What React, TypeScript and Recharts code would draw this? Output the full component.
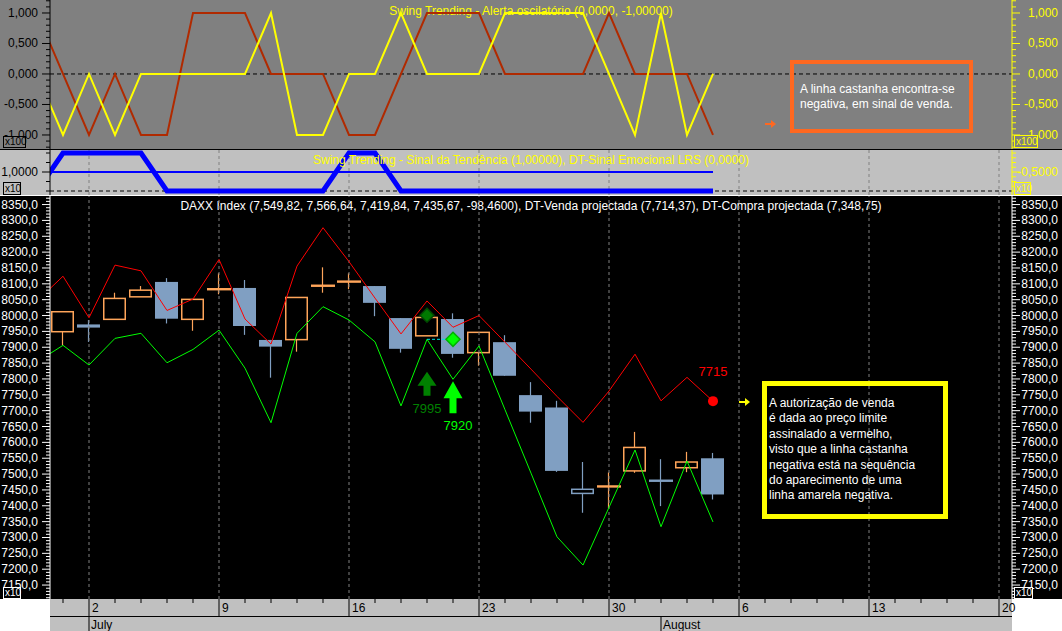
import React from "react"
import {
  ComposedChart,
  Line,
  Bar,
  XAxis,
  YAxis,
  ReferenceLine,
  ReferenceDot,
} from "recharts"

const FONT = '"Liberation Sans", Arial, sans-serif'

// sessions: first one (28 Jun) sits just off the left edge of the plot
const sessions = [
  "28 Jun", "29 Jun",
  "2 Jul", "3 Jul", "4 Jul", "5 Jul", "6 Jul",
  "9 Jul", "10 Jul", "11 Jul", "12 Jul", "13 Jul",
  "16 Jul", "17 Jul", "18 Jul", "19 Jul", "20 Jul",
  "23 Jul", "24 Jul", "25 Jul", "26 Jul", "27 Jul",
  "30 Jul", "31 Jul", "1 Aug", "2 Aug", "3 Aug",
]

const open = [null, 7949, 7972, 7988, 8059, 8106, 7988, 8082, 8087, 7923, 7924, 8093, 8106, 8093, 7992, 7936, 7989, 7883, 7916, 7749, 7710, 7439, 7460, 7510, 7480, 7520, 7549.82]
const high = [null, 8012, 7986, 8072, 8093, 8118, 8051, 8133, 8112, 7923, 8057, 8152, 8133, 8093, 7992, 7994, 8007, 7947, 7938, 7790, 7731, 7538, 7505, 7633, 7547, 7570, 7566.64]
const low = [null, 7907, 7917, 7988, 8059, 7975, 7952, 8067, 7939, 7804, 7886, 8072, 8083, 7998, 7883, 7936, 7867, 7842, 7810, 7662, 7507, 7378, 7392, 7504, 7399, 7506, 7419.84]
const close = [null, 8012, 7962, 8054, 8080, 7990, 8051, 8084, 7967, 7902, 8057, 8095, 8108, 8040, 7895, 7994, 7879, 7947, 7810, 7697, 7510, 7452, 7462, 7584, 7478, 7538, 7435.67]

// DT-Venda projectada (red) / DT-Compra projectada (green)
const vendaProj = [8046, 8124, 7993, 8159, 8141, 8016, 8052, 8177, 7989, 7910, 8156, 8277, 8170, 8055, 7942, 8046, 7963, 8000, 7916, 7831, 7745, 7663, 7762, 7878, 7731, 7805, 7730]
const compraProj = [7854, 7906, 7844, 7928, 7944, 7851, 7893, 7954, 7834, 7662, 7944, 8028, 7986, 7917, 7715, 7925, 7799, 7904, 7703, 7503, 7302, 7213, 7395, 7576, 7334, 7541, 7349]

// Swing Trending - Alerta oscilatório
const yellowOsc = [0, -1, 0, -1, 0, 0, 0, 0, 0, 1, -1, -1, 0, 0, 1, 0, 0, 0, 1, 1, 1, 1, 0, -1, 1, -1, 0]
const brownOsc = [1, 0, -1, 0, -1, -1, 1, 1, 1, 0, 0, 0, -1, -1, 0, 1, 1, 1, 0, 0, 0, 0, 1, 0, 0, 0, -1]

// Sinal da Tendência (thin) / DT-Sinal Emocional LRS (thick)
const trendSignal = [1, 1, 1, 1, 1, 1, 1, 1, 1, 1, 1, 1, 1, 1, 1, 1, 1, 1, 1, 1, 1, 1, 1, 1, 1, 1, 1]
const emotional = [0, 1, 1, 1, 1, 0, 0, 0, 0, 0, 0, 0, 1, 1, 0, 0, 0, 0, 0, 0, 0, 0, 0, 0, 0, 0, 0]

// axis: trading days 29 Jun .. 20 Aug
const axisDays = [29, 2, 3, 4, 5, 6, 9, 10, 11, 12, 13, 16, 17, 18, 19, 20, 23, 24, 25, 26, 27, 30, 31, 1, 2, 3, 6, 7, 8, 9, 10, 13, 14, 15, 16, 17, 20]
const monthLabels = ["July", "August"]
const monthStart = [1, 23]

const table = sessions.map((s, k) => ({
  i: k - 1,
  date: s,
  o: open[k],
  h: high[k],
  l: low[k],
  c: close[k],
  pc: k > 1 ? close[k - 1] : null,
  venda: vendaProj[k],
  compra: compraProj[k],
  yellow: yellowOsc[k],
  brown: brownOsc[k],
  trend: trendSignal[k],
  emo: emotional[k],
}))

const X_DOMAIN = [-0.5, 36.5]
const xTicks = axisDays.map((_, i) => i)
const mondays = xTicks.filter((i) => i % 5 === 1)

const ORANGE = "#ffa55a"
const BLUE = "#809fc2"

const oscTicks = Array.from({ length: 25 }, (_, k) => (k - 12) / 10)
const priceTicks = Array.from({ length: 127 }, (_, k) => 7110 + k * 10)
const midTicks = [0, 0.5, 1, 1.5, 2]
const midRightTicks = [-1.5, -1.25, -1, -0.75, -0.5, -0.25, 0, 0.25, 0.5]

const axisTick =
  (side: "left" | "right", color: string, isMajor: (v: number) => boolean, hasLabel: (v: number) => boolean, fmt: (v: number) => string) =>
  (p: any) => {
    const v = p.payload.value
    const len = isMajor(v) ? 8 : 4
    const dir = side === "left" ? -1 : 1
    return (
      <g>
        <line x1={p.x} x2={p.x + dir * len} y1={p.y} y2={p.y} stroke={color} />
        {hasLabel(v) && (
          <text
            x={side === "left" ? p.x - 12 : p.x + 46}
            y={p.y}
            dy={4}
            textAnchor="end"
            fill={color}
            fontSize={12}
            fontFamily={FONT}
          >
            {fmt(v)}
          </text>
        )}
      </g>
    )
  }

const oscMajor = (v: number) => Math.round(v * 10) % 5 === 0
const oscFmt = (v: number) => (Math.abs(v) < 1e-9 ? 0 : v).toFixed(3).replace(".", ",")
const priceMajor = (v: number) => v % 50 === 0
const priceFmt = (v: number) => v.toFixed(1).replace(".", ",")

const dayTick = (p: any) => {
  const i = p.payload.value
  const { x, y } = p
  const monday = i % 5 === 1
  const m = monthStart.indexOf(i)
  return (
    <g>
      <line x1={x} x2={x} y1={y} y2={monday ? y + 17 : y + 4} stroke="#000" />
      {monday && (
        <text x={x + 3} y={y + 13} fontSize={12} fill="#000" fontFamily={FONT}>
          {axisDays[i]}
        </text>
      )}
      {m >= 0 && <line x1={x} x2={x} y1={y + 17} y2={y + 32} stroke="#000" />}
      {m >= 0 && (
        <text x={x + 2} y={y + 30} fontSize={12} fill="#000" fontFamily={FONT}>
          {monthLabels[m]}
        </text>
      )}
    </g>
  )
}

const Candle = (props: any) => {
  const { x, y, width, height, payload } = props
  if (payload == null || payload.o == null) return <g />
  const { o, h, l, c, pc } = payload
  const ppu = height / (h - l)
  const yO = y + (h - o) * ppu
  const yC = y + (h - c) * ppu
  const cx = x + width / 2
  const color = pc == null || c >= pc ? ORANGE : BLUE
  if (Math.abs(yO - yC) < 2) {
    const ym = (yO + yC) / 2
    return (
      <g>
        <line x1={cx} x2={cx} y1={y} y2={y + height} stroke={color} strokeWidth={1.2} />
        <rect x={x} y={ym - 1.2} width={width + 1} height={2.4} fill={color} />
      </g>
    )
  }
  if (c > o) {
    return (
      <g>
        <line x1={cx} x2={cx} y1={y} y2={yC} stroke={color} strokeWidth={1.2} />
        <line x1={cx} x2={cx} y1={yO} y2={y + height} stroke={color} strokeWidth={1.2} />
        <rect x={x + 0.75} y={yC} width={width - 1.5} height={yO - yC} fill="none" stroke={color} strokeWidth={1.5} />
      </g>
    )
  }
  return (
    <g>
      <line x1={cx} x2={cx} y1={y} y2={y + height} stroke={color} strokeWidth={1.2} />
      <rect x={x} y={yO} width={width} height={yC - yO} fill={color} />
    </g>
  )
}

const diamond = (fill: string, stroke: string) => (p: any) => (
  <polygon
    points={`${p.cx},${p.cy - 7} ${p.cx + 7},${p.cy} ${p.cx},${p.cy + 7} ${p.cx - 7},${p.cy}`}
    fill={fill}
    stroke={stroke}
    strokeWidth={1.5}
  />
)

const buyArrow = (fill: string, label: string, dx: number, dy: number, headH: number, stemH: number) => (p: any) => {
  const { cx, cy } = p
  const pts = [
    [cx, cy],
    [cx + 9.5, cy + headH],
    [cx + 3.5, cy + headH],
    [cx + 3.5, cy + headH + stemH],
    [cx - 3.5, cy + headH + stemH],
    [cx - 3.5, cy + headH],
    [cx - 9.5, cy + headH],
  ]
  return (
    <g>
      <polygon points={pts.map((q) => q.join(",")).join(" ")} fill={fill} />
      <text x={cx + dx} y={cy + dy} textAnchor="middle" fill={fill} fontSize={13} fontFamily={FONT}>
        {label}
      </text>
    </g>
  )
}

const M = { top: 0, right: 0, bottom: 0, left: 0 }

const box = (style: React.CSSProperties): React.CSSProperties => ({ position: "absolute", boxSizing: "border-box", ...style })

const Scale = ({ left, top, w, h, color, bg, text }: any) => (
  <div
    style={box({
      left,
      top,
      width: w,
      height: h,
      border: `1px solid ${color}`,
      background: bg,
      color,
      fontSize: 10,
      lineHeight: `${h - 2}px`,
      paddingLeft: 1,
    })}
  >
    {text}
  </div>
)

export default function App() {
  return (
    <div style={box({ left: 0, top: 0, width: 1062, height: 631, background: "#fff", overflow: "hidden", fontFamily: FONT })}>
      <div style={box({ left: 0, top: 0, width: 1062, height: 149, background: "#808080" })} />
      <div style={box({ left: 0, top: 149, width: 1062, height: 1, background: "#000" })} />
      <div style={box({ left: 0, top: 150, width: 1062, height: 45, background: "#c0c0c0" })} />
      <div style={box({ left: 0, top: 195, width: 1062, height: 1, background: "#fff" })} />
      <div style={box({ left: 0, top: 196, width: 1062, height: 403, background: "#000" })} />
      <div style={box({ left: 50, top: 599, width: 962, height: 32, background: "#c0c0c0" })} />
      <div style={box({ left: 50, top: 616, width: 962, height: 1, background: "#000" })} />

      <div style={box({ left: 50, top: 4, width: 962, textAlign: "center", color: "#ffff00", fontSize: 12, lineHeight: "14px" })}>
        Swing Trending - Alerta oscilatório (0,0000, -1,00000)
      </div>
      <div style={box({ left: 50, top: 199, width: 962, textAlign: "center", color: "#fff", fontSize: 12, lineHeight: "14px" })}>
        DAXX Index (7,549,82, 7,566,64, 7,419,84, 7,435,67, -98,4600), DT-Venda projectada (7,714,37), DT-Compra projectada (7,348,75)
      </div>

      {/* oscillator panel */}
      <div style={box({ left: 0, top: 0 })}>
        <ComposedChart width={1062} height={149} data={table} margin={M}>
          <XAxis dataKey="i" type="number" domain={X_DOMAIN} allowDataOverflow hide />
          <YAxis
            width={50}
            domain={[-1.23, 1.213]}
            allowDataOverflow
            ticks={oscTicks}
            interval={0}
            tickLine={false}
            tickSize={0}
            tickMargin={0}
            axisLine={{ stroke: "#000" }}
            tick={axisTick("left", "#000", oscMajor, oscMajor, oscFmt)}
          />
          <YAxis
            yAxisId="r"
            orientation="right"
            width={50}
            domain={[-1.23, 1.213]}
            allowDataOverflow
            ticks={oscTicks}
            interval={0}
            tickLine={false}
            tickSize={0}
            tickMargin={0}
            axisLine={{ stroke: "#ffff00" }}
            tick={axisTick("right", "#ffff00", oscMajor, oscMajor, oscFmt)}
          />
          <ReferenceLine y={0} stroke="#000" strokeDasharray="4 3" />
          <Line dataKey="brown" type="linear" stroke="#b02a00" strokeWidth={2} dot={false} isAnimationActive={false} />
          <Line dataKey="yellow" type="linear" stroke="#ffff00" strokeWidth={2} dot={false} isAnimationActive={false} />
        </ComposedChart>
      </div>

      {/* trend panel */}
      <div style={box({ left: 0, top: 150 })}>
        <ComposedChart width={1062} height={45} data={table} margin={M}>
          <XAxis dataKey="i" type="number" domain={X_DOMAIN} allowDataOverflow hide />
          <YAxis
            width={50}
            domain={[-0.2105, 2.158]}
            allowDataOverflow
            ticks={midTicks}
            interval={0}
            tickLine={false}
            tickSize={0}
            tickMargin={0}
            axisLine={{ stroke: "#000" }}
            tick={axisTick("left", "#000", (v) => v === 1, (v) => v === 1, (v) => v.toFixed(4).replace(".", ","))}
          />
          <YAxis
            yAxisId="r"
            orientation="right"
            width={50}
            domain={[-1.7105, 0.658]}
            allowDataOverflow
            ticks={midRightTicks}
            interval={0}
            tickLine={false}
            tickSize={0}
            tickMargin={0}
            axisLine={{ stroke: "#ffff00" }}
            tick={axisTick("right", "#ffff00", (v) => v === -0.5, (v) => v === -0.5, (v) => v.toFixed(4).replace(".", ","))}
          />
          <YAxis yAxisId="emo" hide domain={[-0.10525, 1.079]} allowDataOverflow />
          {mondays.map((i) => (
            <ReferenceLine key={i} x={i} stroke="#808080" strokeDasharray="3 3" />
          ))}
          <ReferenceLine y={0} stroke="#000" strokeDasharray="4 3" />
          <Line dataKey="trend" type="linear" stroke="#0000ff" strokeWidth={2} dot={false} isAnimationActive={false} />
          <Line yAxisId="emo" dataKey="emo" type="linear" stroke="#0000ff" strokeWidth={5} dot={false} isAnimationActive={false} />
        </ComposedChart>
      </div>
      <div style={box({ left: 50, top: 153, width: 962, textAlign: "center", color: "#ffff00", fontSize: 12, lineHeight: "14px" })}>
        Swing Trending - Sinal da Tendência (1,00000), DT-Sinal Emocional LRS (0,0000)
      </div>

      {/* price panel */}
      <div style={box({ left: 0, top: 196 })}>
        <ComposedChart width={1062} height={435} data={table} margin={M}>
          <XAxis
            dataKey="i"
            type="number"
            domain={X_DOMAIN}
            allowDataOverflow
            ticks={xTicks}
            interval={0}
            height={32}
            tickLine={false}
            tickSize={0}
            tickMargin={0}
            axisLine={false}
            tick={dayTick}
          />
          <YAxis
            width={50}
            domain={[7106, 8377]}
            allowDataOverflow
            ticks={priceTicks}
            interval={0}
            tickLine={false}
            tickSize={0}
            tickMargin={0}
            axisLine={{ stroke: "#fff" }}
            tick={axisTick("left", "#fff", priceMajor, priceMajor, priceFmt)}
          />
          <YAxis
            yAxisId="r"
            orientation="right"
            width={50}
            domain={[7106, 8377]}
            allowDataOverflow
            ticks={priceTicks}
            interval={0}
            tickLine={false}
            tickSize={0}
            tickMargin={0}
            axisLine={{ stroke: "#fff" }}
            tick={axisTick("right", "#fff", priceMajor, priceMajor, priceFmt)}
          />
          {mondays.map((i) => (
            <ReferenceLine key={i} x={i} stroke="#808080" strokeDasharray="3 3" />
          ))}
          <Bar
            dataKey={(d: any) => (d.o == null ? null : [d.l, d.h])}
            barSize={23}
            shape={Candle}
            isAnimationActive={false}
          />
          <Line dataKey="venda" type="linear" stroke="#ff0000" strokeWidth={1} dot={false} isAnimationActive={false} />
          <Line dataKey="compra" type="linear" stroke="#00ff00" strokeWidth={1} dot={false} isAnimationActive={false} />
          <ReferenceLine
            segment={[
              { x: 14, y: 7925 },
              { x: 14.8, y: 7925 },
            ]}
            stroke="#00e0e0"
            strokeDasharray="3 2"
          />
          <ReferenceDot x={14} y={8001} r={7} shape={diamond("#007800", "#004800")} />
          <ReferenceDot x={15} y={7925} r={7} shape={diamond("#00ff00", "#00b000")} />
          <ReferenceDot x={14} y={7823} r={1} shape={buyArrow("#008000", "7995", 0, 41, 14, 10)} />
          <ReferenceDot x={15} y={7793} r={1} shape={buyArrow("#00ff00", "7920", 5, 49, 17, 15)} />
          <ReferenceDot
            x={25}
            y={7730}
            r={5}
            fill="#ff0000"
            stroke="none"
            label={{ value: "7715", position: "top", offset: 20, fill: "#ff0000", fontSize: 13, fontFamily: FONT }}
          />
        </ComposedChart>
      </div>

      {/* annotations */}
      <svg style={box({ left: 765, top: 119, width: 12, height: 10 })} viewBox="0 0 12 10">
        <polygon points="0,4 6,4 6,1 11,5 6,9 6,6 0,6" fill="#ff6820" />
      </svg>
      <div
        style={box({
          left: 790,
          top: 60,
          width: 183,
          height: 73,
          border: "4px solid #ff6820",
          color: "#fff",
          fontSize: 12,
          lineHeight: "15px",
          padding: "18px 0 0 6px",
        })}
      >
        A linha castanha encontra-se
        <br />
        negativa, em sinal de venda.
      </div>

      <svg style={box({ left: 739, top: 397, width: 12, height: 10 })} viewBox="0 0 12 10">
        <polygon points="0,4 6,4 6,1 11,5 6,9 6,6 0,6" fill="#ffff00" />
      </svg>
      <div
        style={box({
          left: 762,
          top: 381,
          width: 186,
          height: 138,
          border: "5px solid #ffff00",
          color: "#fff",
          fontSize: 12,
          lineHeight: "15.4px",
          padding: "10px 0 0 2px",
        })}
      >
        A autorização de venda
        <br />é dada ao preço limite
        <br />
        assinalado a vermelho,
        <br />
        visto que a linha castanha
        <br />
        negativa está na sequência
        <br />
        do aparecimento de uma
        <br />
        linha amarela negativa.
      </div>

      <Scale left={3} top={136} w={23} h={12} color="#000" bg="#808080" text="x100" />
      <Scale left={3} top={182} w={18} h={13} color="#000" bg="#c0c0c0" text="x10" />
      <Scale left={3} top={587} w={18} h={12} color="#fff" bg="#000" text="x10" />
      <Scale left={1014} top={135} w={24} h={13} color="#ffff00" bg="#808080" text="x100" />
      <Scale left={1014} top={182} w={17} h={13} color="#ffff00" bg="#c0c0c0" text="x10" />
      <Scale left={1014} top={587} w={19} h={12} color="#fff" bg="#000" text="x10" />
    </div>
  )
}
